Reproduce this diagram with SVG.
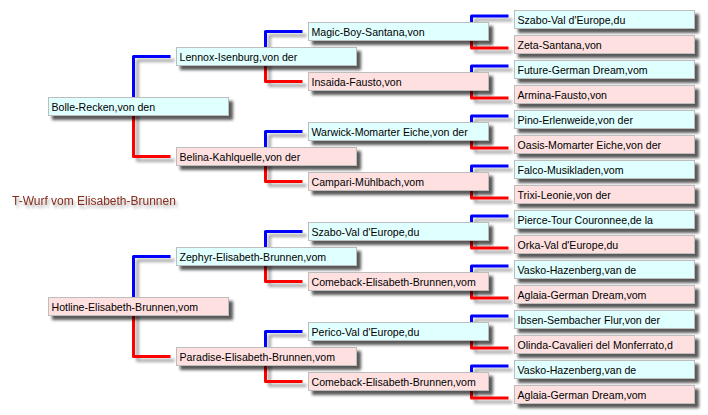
<svg xmlns="http://www.w3.org/2000/svg" width="708" height="415" viewBox="0 0 708 415">
<defs>
<filter id="sh" x="-10%" y="-30%" width="130%" height="180%">
<feDropShadow dx="4" dy="4" stdDeviation="1.4" flood-color="#000" flood-opacity="0.65"/>
</filter>
<filter id="lsh" x="-50%" y="-50%" width="200%" height="200%">
<feDropShadow dx="4" dy="4" stdDeviation="1.4" flood-color="#000" flood-opacity="0.35"/>
</filter>
<filter id="tsh" x="-10%" y="-50%" width="130%" height="220%">
<feDropShadow dx="2" dy="3" stdDeviation="1.8" flood-color="#000" flood-opacity="0.35"/>
</filter>
</defs>
<style>
.c rect{fill:#e0ffff}
.p rect{fill:#ffe0e0}
.c rect,.p rect{stroke:#bdbdbd;stroke-width:1;filter:url(#sh)}
text{font-family:"Liberation Sans",Arial,sans-serif;font-size:10.6px;fill:#000}
.root{font-size:12px;fill:#862d1f;filter:url(#tsh)}
.b{stroke:#0000ff}
.r{stroke:#ff0000}
#connectors path{fill:none;stroke-width:3;stroke-linejoin:round;filter:url(#lsh)}
</style>
<rect width="708" height="415" fill="#fff"/>
<g id="connectors">
<path class="b" d="M50.5,185 V110"/>
<path class="r" d="M50.5,220 V300"/>
<path class="b" d="M133.5,106.5 V56.5 H170.5"/>
<path class="r" d="M133.5,106.5 V156.5 H170.5"/>
<path class="b" d="M133.5,306.5 V256.5 H170.5"/>
<path class="r" d="M133.5,306.5 V356.5 H170.5"/>
<path class="b" d="M265.5,56.5 V31.5 H302.5"/>
<path class="r" d="M265.5,56.5 V81.5 H302.5"/>
<path class="b" d="M265.5,156.5 V131.5 H302.5"/>
<path class="r" d="M265.5,156.5 V181.5 H302.5"/>
<path class="b" d="M265.5,256.5 V231.5 H302.5"/>
<path class="r" d="M265.5,256.5 V281.5 H302.5"/>
<path class="b" d="M265.5,356.5 V331.5 H302.5"/>
<path class="r" d="M265.5,356.5 V381.5 H302.5"/>
<path class="b" d="M471.5,31.5 V16 H508.5"/>
<path class="r" d="M471.5,31.5 V48 H508.5"/>
<path class="b" d="M471.5,81.5 V66 H508.5"/>
<path class="r" d="M471.5,81.5 V98 H508.5"/>
<path class="b" d="M471.5,131.5 V116 H508.5"/>
<path class="r" d="M471.5,131.5 V148 H508.5"/>
<path class="b" d="M471.5,181.5 V166 H508.5"/>
<path class="r" d="M471.5,181.5 V198 H508.5"/>
<path class="b" d="M471.5,231.5 V216 H508.5"/>
<path class="r" d="M471.5,231.5 V248 H508.5"/>
<path class="b" d="M471.5,281.5 V266 H508.5"/>
<path class="r" d="M471.5,281.5 V298 H508.5"/>
<path class="b" d="M471.5,331.5 V316 H508.5"/>
<path class="r" d="M471.5,331.5 V348 H508.5"/>
<path class="b" d="M471.5,381.5 V366 H508.5"/>
<path class="r" d="M471.5,381.5 V398 H508.5"/>
</g>
<g id="root"><text class="root" x="12" y="205">T-Wurf vom Elisabeth-Brunnen</text></g>
<g id="n1" class="c"><rect x="48.5" y="97.5" width="180" height="18"/><text x="51.5" y="110.5">Bolle-Recken,von den</text></g>
<g id="n2" class="p"><rect x="48.5" y="297.5" width="180" height="18"/><text x="51.5" y="310.5">Hotline-Elisabeth-Brunnen,vom</text></g>
<g id="n3" class="c"><rect x="176.5" y="47.5" width="180" height="18"/><text x="179.5" y="60.5">Lennox-Isenburg,von der</text></g>
<g id="n4" class="p"><rect x="176.5" y="147.5" width="180" height="18"/><text x="179.5" y="160.5">Belina-Kahlquelle,von der</text></g>
<g id="n5" class="c"><rect x="176.5" y="247.5" width="180" height="18"/><text x="179.5" y="260.5">Zephyr-Elisabeth-Brunnen,vom</text></g>
<g id="n6" class="p"><rect x="176.5" y="347.5" width="180" height="18"/><text x="179.5" y="360.5">Paradise-Elisabeth-Brunnen,vom</text></g>
<g id="n7" class="c"><rect x="308.5" y="22.5" width="180" height="18"/><text x="311.5" y="35.5">Magic-Boy-Santana,von</text></g>
<g id="n8" class="p"><rect x="308.5" y="72.5" width="180" height="18"/><text x="311.5" y="85.5">Insaida-Fausto,von</text></g>
<g id="n9" class="c"><rect x="308.5" y="122.5" width="180" height="18"/><text x="311.5" y="135.5">Warwick-Momarter Eiche,von der</text></g>
<g id="n10" class="p"><rect x="308.5" y="172.5" width="180" height="18"/><text x="311.5" y="185.5">Campari-Mühlbach,vom</text></g>
<g id="n11" class="c"><rect x="308.5" y="222.5" width="180" height="18"/><text x="311.5" y="235.5">Szabo-Val d'Europe,du</text></g>
<g id="n12" class="p"><rect x="308.5" y="272.5" width="180" height="18"/><text x="311.5" y="285.5">Comeback-Elisabeth-Brunnen,vom</text></g>
<g id="n13" class="c"><rect x="308.5" y="322.5" width="180" height="18"/><text x="311.5" y="335.5">Perico-Val d'Europe,du</text></g>
<g id="n14" class="p"><rect x="308.5" y="372.5" width="180" height="18"/><text x="311.5" y="385.5">Comeback-Elisabeth-Brunnen,vom</text></g>
<g id="n15" class="c"><rect x="514.5" y="10.5" width="180" height="18"/><text x="517.5" y="23.5">Szabo-Val d'Europe,du</text></g>
<g id="n16" class="p"><rect x="514.5" y="35.5" width="180" height="18"/><text x="517.5" y="48.5">Zeta-Santana,von</text></g>
<g id="n17" class="c"><rect x="514.5" y="60.5" width="180" height="18"/><text x="517.5" y="73.5">Future-German Dream,vom</text></g>
<g id="n18" class="p"><rect x="514.5" y="85.5" width="180" height="18"/><text x="517.5" y="98.5">Armina-Fausto,von</text></g>
<g id="n19" class="c"><rect x="514.5" y="110.5" width="180" height="18"/><text x="517.5" y="123.5">Pino-Erlenweide,von der</text></g>
<g id="n20" class="p"><rect x="514.5" y="135.5" width="180" height="18"/><text x="517.5" y="148.5">Oasis-Momarter Eiche,von der</text></g>
<g id="n21" class="c"><rect x="514.5" y="160.5" width="180" height="18"/><text x="517.5" y="173.5">Falco-Musikladen,vom</text></g>
<g id="n22" class="p"><rect x="514.5" y="185.5" width="180" height="18"/><text x="517.5" y="198.5">Trixi-Leonie,von der</text></g>
<g id="n23" class="c"><rect x="514.5" y="210.5" width="180" height="18"/><text x="517.5" y="223.5">Pierce-Tour Couronnee,de la</text></g>
<g id="n24" class="p"><rect x="514.5" y="235.5" width="180" height="18"/><text x="517.5" y="248.5">Orka-Val d'Europe,du</text></g>
<g id="n25" class="c"><rect x="514.5" y="260.5" width="180" height="18"/><text x="517.5" y="273.5">Vasko-Hazenberg,van de</text></g>
<g id="n26" class="p"><rect x="514.5" y="285.5" width="180" height="18"/><text x="517.5" y="298.5">Aglaia-German Dream,vom</text></g>
<g id="n27" class="c"><rect x="514.5" y="310.5" width="180" height="18"/><text x="517.5" y="323.5">Ibsen-Sembacher Flur,von der</text></g>
<g id="n28" class="p"><rect x="514.5" y="335.5" width="180" height="18"/><text x="517.5" y="348.5">Olinda-Cavalieri del Monferrato,d</text></g>
<g id="n29" class="c"><rect x="514.5" y="360.5" width="180" height="18"/><text x="517.5" y="373.5">Vasko-Hazenberg,van de</text></g>
<g id="n30" class="p"><rect x="514.5" y="385.5" width="180" height="18"/><text x="517.5" y="398.5">Aglaia-German Dream,vom</text></g>
</svg>
